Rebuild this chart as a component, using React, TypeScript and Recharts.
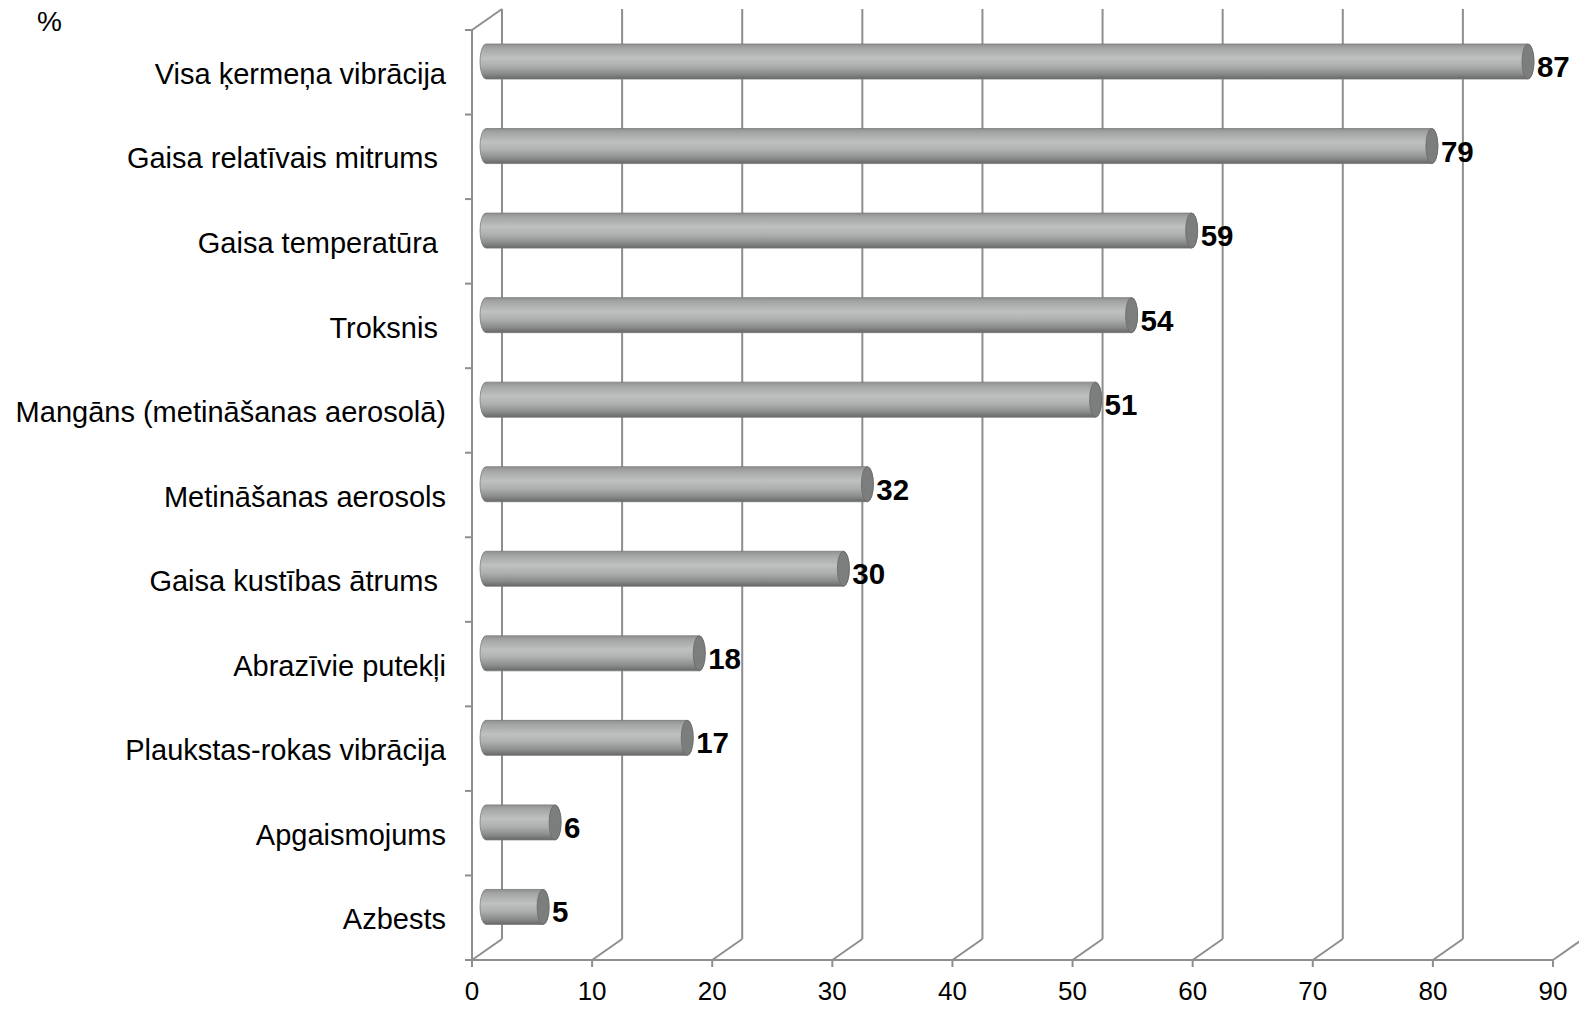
import React from "react";
import { BarChart, Bar, XAxis, YAxis, CartesianGrid } from "recharts";

const categories = [
  "Visa ķermeņa vibrācija",
  "Gaisa relatīvais mitrums ",
  "Gaisa temperatūra ",
  "Troksnis ",
  "Mangāns (metināšanas aerosolā)",
  "Metināšanas aerosols",
  "Gaisa kustības ātrums ",
  "Abrazīvie putekļi",
  "Plaukstas-rokas vibrācija",
  "Apgaismojums",
  "Azbests",
];
const values = [87, 79, 59, 54, 51, 32, 30, 18, 17, 6, 5];
const xTicks = [0, 10, 20, 30, 40, 50, 60, 70, 80, 90];
const unitLabel = "%";

const data = categories.map((name, i) => ({ name, value: values[i] }));

const DEPTH_X = 30;
const DEPTH_Y = 21;
const LINE = "#8e8e8e";
const FONT = "'Liberation Sans', Arial, sans-serif";

const gridLine = (props: any) => {
  const { x1, y1, y2, index } = props;
  const bx = x1 + DEPTH_X;
  const parts: any[] = [];
  parts.push(
    <line key="b" x1={bx} y1={y1 - DEPTH_Y} x2={bx} y2={y2 - DEPTH_Y} stroke={LINE} strokeWidth={2} />
  );
  parts.push(
    <line key="d" x1={x1} y1={y2} x2={bx} y2={y2 - DEPTH_Y} stroke={LINE} strokeWidth={2} />
  );
  if (index === 0) {
    parts.push(
      <line key="t" x1={x1} y1={y1} x2={bx} y2={y1 - DEPTH_Y} stroke={LINE} strokeWidth={2} />
    );
    const n = categories.length;
    for (let i = 0; i <= n; i++) {
      const yy = y1 + ((y2 - y1) * i) / n;
      parts.push(
        <line key={"k" + i} x1={x1 - 7} y1={yy} x2={x1} y2={yy} stroke={LINE} strokeWidth={2} />
      );
    }
  }
  return <g key={props.key ?? "g" + index}>{parts}</g>;
};

const Cylinder = (props: any) => {
  const { x, y, width, height, payload } = props;
  const rx = 6;
  const ry = height / 2;
  const sy = -11;
  const x0 = x + 14;
  const x1 = x + width + 11;
  const top = y + sy;
  const bot = y + height + sy;
  const cy = (top + bot) / 2;
  const d = `M ${x0} ${top} L ${x1} ${top} A ${rx} ${ry} 0 0 1 ${x1} ${bot} L ${x0} ${bot} A ${rx} ${ry} 0 0 1 ${x0} ${top} Z`;
  return (
    <g>
      <path d={d} fill="url(#cylGrad)" stroke="#7a7a7a" strokeWidth={0.8} />
      <ellipse cx={x1} cy={cy} rx={rx} ry={ry} fill="#7c7d7d" stroke="#6a6a6a" strokeWidth={0.8} />
      <text
        x={x1 + rx + 3}
        y={cy + 15.5}
        fontFamily={FONT}
        fontWeight="bold"
        fontSize={29.5}
        fill="#000"
      >
        {payload.value}
      </text>
    </g>
  );
};

const YTick = (props: any) => {
  const { x, y, payload } = props;
  return (
    <text
      x={x}
      y={y}
      dy="0.4em"
      textAnchor="end"
      fontFamily={FONT}
      fontSize={29}
      fill="#000"
      style={{ whiteSpace: "pre" }}
    >
      {payload.value}
    </text>
  );
};

export default function App() {
  return (
    <div style={{ width: 1579, height: 1009, background: "#fff", position: "relative" }}>
      <style>{`body{margin:0;}`}</style>
      <BarChart
        width={1579}
        height={1009}
        data={data}
        layout="vertical"
        margin={{ top: 30, right: 26, left: 0, bottom: 0 }}
        barSize={35}
      >
        <defs>
          <linearGradient id="cylGrad" x1="0" y1="0" x2="0" y2="1">
            <stop offset="0%" stopColor="#8f9090" />
            <stop offset="12%" stopColor="#a4a5a5" />
            <stop offset="40%" stopColor="#bfc1c1" />
            <stop offset="62%" stopColor="#aeb0b0" />
            <stop offset="85%" stopColor="#8a8b8b" />
            <stop offset="100%" stopColor="#666767" />
          </linearGradient>
        </defs>
        <CartesianGrid horizontal={false} vertical={gridLine} stroke={LINE} />
        <XAxis
          type="number"
          domain={[0, 90]}
          ticks={xTicks}
          interval={0}
          height={49}
          axisLine={{ stroke: LINE, strokeWidth: 2 }}
          tickLine={{ stroke: LINE, strokeWidth: 2 }}
          tickSize={7}
          tickMargin={15}
          tick={{ fontFamily: FONT, fontSize: 26, fill: "#000" }}
        />
        <YAxis
          type="category"
          dataKey="name"
          width={472}
          axisLine={{ stroke: LINE, strokeWidth: 2 }}
          tickLine={false}
          tickSize={0}
          tickMargin={26}
          interval={0}
          tick={<YTick />}
        />
        <Bar dataKey="value" isAnimationActive={false} shape={(p: any) => <Cylinder {...p} />} />
        <text x={37} y={31} fontFamily={FONT} fontSize={28} fill="#000">
          {unitLabel}
        </text>
      </BarChart>
    </div>
  );
}
